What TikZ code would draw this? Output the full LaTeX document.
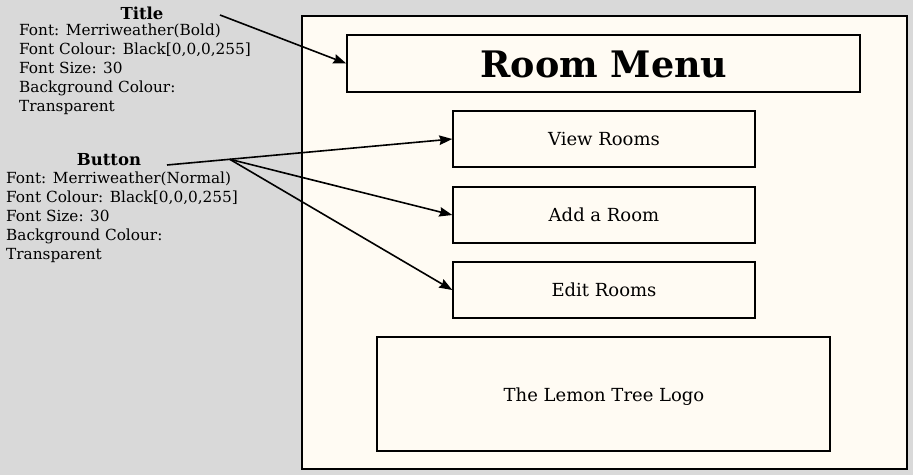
\documentclass[tikz,border=0pt]{standalone}
\usepackage{fontspec}
\setmainfont{DejaVu Serif}
\usetikzlibrary{arrows.meta,calc}
\definecolor{bg}{HTML}{D9D9D9}
\definecolor{cream}{HTML}{FFFBF3}
\begin{document}
\begin{tikzpicture}[x=1pt,y=-1pt,
  box/.style={draw=black,line width=1.4pt,fill=cream,inner sep=0pt},
  btn/.style={box,minimum width=302pt,minimum height=56pt,font=\fontsize{18}{21}\selectfont},
  conn/.style={line width=1.6pt,-{Stealth[length=13pt,width=9.5pt,inset=1.5pt]}},
  info/.style={align=left,anchor=north west,inner sep=0pt,font=\fontsize{15.3}{19}\selectfont},
  head/.style={inner sep=0pt,font=\fontsize{16.5}{19}\selectfont\bfseries}]
\useasboundingbox (0,0) rectangle (913,475);
\fill[bg] (0,0) rectangle (913,475);
\node[box,minimum width=605pt,minimum height=453pt] (frame) at (604.5,242.5) {};
\node[box,minimum width=513pt,minimum height=57pt] (title) at (603.5,63.5) {};
\node[inner sep=0pt,anchor=base,font=\fontsize{36.5}{40}\selectfont\bfseries] (titletext) at (604,77) {Room Menu};
\node[btn] (view) at (604,139) {View Rooms};
\node[btn] (add) at (604,215) {Add a Room};
\node[btn] (edit) at (604,290) {Edit Rooms};
\node[box,minimum width=453pt,minimum height=114pt] (logo) at (603.5,394) {};
\node[inner sep=0pt,anchor=base,font=\fontsize{18}{21}\selectfont] (logotext) at (604,401) {The Lemon Tree Logo};
\node[head] (thead) at (142,13) {Title};
\node[info] (tinfo) at (19,23.3) {Font: Merriweather(Bold)\\Font Colour: Black[0,0,0,255]\\Font Size: 30\\Background Colour:\\Transparent};
\node[head] (bhead) at (109,159.5) {Button};
\node[info] (binfo) at (6,171.8) {Font: Merriweather(Normal)\\Font Colour: Black[0,0,0,255]\\Font Size: 30\\Background Colour:\\Transparent};
\coordinate (tstart) at (220,15);
\coordinate (bstart) at (167,165);
\draw[conn] (tstart) -- (title.west);
\draw[conn] (bstart) -- (view.west);
\coordinate (branch) at ($(bstart)!0.22!(view.west)$);
\draw[conn] (branch) -- (add.west);
\draw[conn] (branch) -- (edit.west);
\end{tikzpicture}
\end{document}
